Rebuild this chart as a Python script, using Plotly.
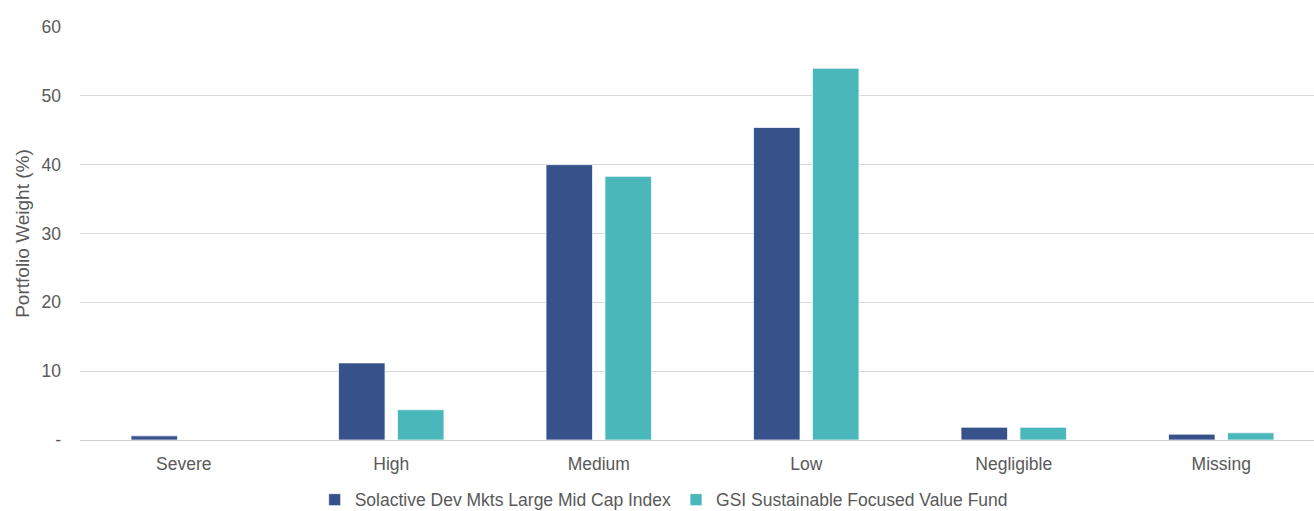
import plotly.graph_objects as go

categories = ["Severe", "High", "Medium", "Low", "Negligible", "Missing"]
index_name = "Solactive Dev Mkts Large Mid Cap Index"
fund_name = "GSI Sustainable Focused Value Fund"
index_values = [0.6, 11.2, 40.0, 45.4, 1.85, 0.85]
fund_values = [0.0, 4.4, 38.3, 54.0, 1.85, 1.05]
y_tick_vals = [0, 10, 20, 30, 40, 50, 60]
y_tick_text = ["-", "10", "20", "30", "40", "50", "60"]

FONT = "Liberation Sans, Arial, sans-serif"
TXT = "#595959"

fig = go.Figure()
fig.add_trace(go.Bar(
    x=categories, y=index_values, name=index_name,
    marker=dict(color="#37528A", line=dict(color="rgba(255,255,255,0.7)", width=1)),
))
fig.add_trace(go.Bar(
    x=categories, y=fund_values, name=fund_name,
    marker=dict(color="#4AB7BA", line=dict(color="rgba(255,255,255,0.7)", width=1)),
))

fig.update_layout(
    width=1314, height=511,
    margin=dict(l=80, r=0, t=27, b=71, autoexpand=False),
    paper_bgcolor="white", plot_bgcolor="white",
    barmode="group", bargap=0.432, bargroupgap=0.211,
    font=dict(family=FONT, size=17.5, color=TXT),
    showlegend=True,
    legend=dict(
        orientation="h", x=0.473, xanchor="center",
        yref="container", y=0.022, yanchor="middle",
        font=dict(family=FONT, size=17.5, color=TXT),
        itemwidth=30, traceorder="normal", bgcolor="rgba(0,0,0,0)",
    ),
    xaxis=dict(
        type="category", range=[-0.5, 5.447], showgrid=False,
        showline=False, zeroline=False, ticks="",
        tickfont=dict(family=FONT, size=17.5, color=TXT),
        ticklabelstandoff=11, automargin=False,
    ),
    yaxis=dict(
        range=[0, 60], tickvals=y_tick_vals, ticktext=y_tick_text,
        showgrid=True, gridcolor="#D9D9D9", gridwidth=1,
        zeroline=True, zerolinecolor="#D0D0D0", zerolinewidth=1,
        showline=False, ticks="",
        tickfont=dict(family=FONT, size=17.5, color=TXT),
        ticklabelstandoff=18,
        title=dict(text="Portfolio Weight (%)", font=dict(family=FONT, size=19, color=TXT), standoff=6),
        automargin=False,
    ),
)

fig.write_html(
    "out.html",
    config={"displayModeBar": False},
    post_script="document.body.style.margin='0';document.body.style.overflow='hidden';",
)
